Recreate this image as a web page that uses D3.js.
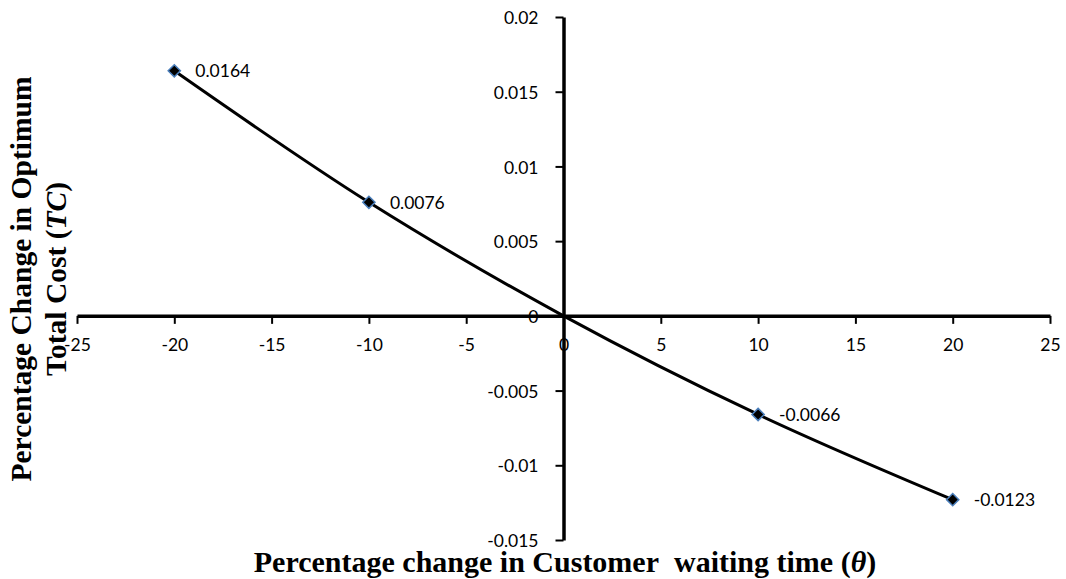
<!DOCTYPE html>
<html>
<head>
<meta charset="utf-8">
<script src="https://cdn.jsdelivr.net/npm/d3@7/dist/d3.min.js"></script>
<style>
  html, body { margin: 0; padding: 0; background: #fff; }
  svg { display: block; }
</style>
</head>
<body>
<svg id="chart" width="1066" height="579"></svg>
<script>
// ---- data ----
const xValues = [-20, -10, 0, 10, 20];
const yValues = [0.0164, 0.0076, 0, -0.0066, -0.0123];
const pointLabels = ["0.0164", "0.0076", "", "-0.0066", "-0.0123"];
const xTickValues = [-25, -20, -15, -10, -5, 0, 5, 10, 15, 20, 25];
const xTickLabels = ["-25", "-20", "-15", "-10", "-5", "0", "5", "10", "15", "20", "25"];
const yTickValues = [0.02, 0.015, 0.01, 0.005, 0, -0.005, -0.01, -0.015];
const yTickLabels = ["0.02", "0.015", "0.01", "0.005", "0", "-0.005", "-0.01", "-0.015"];
const xDomain = [-25, 25];
const yDomain = [-0.015, 0.02];

const svg = d3.select("#chart");
const tickFont = "Lato, 'Open Sans', sans-serif";
const titleFont = "'Liberation Serif', 'Times New Roman', serif";
const tickSize = 17.5;

const x = d3.scaleLinear().domain(xDomain).range([77, 1050]);
const y = d3.scaleLinear().domain(yDomain).range([540, 17]);

const data = xValues.map((v, i) => ({ x: v, y: yValues[i], label: pointLabels[i] }));

// ---- y axis (at x = 0) ----
const yAxis = d3.axisLeft(y)
  .tickValues(yTickValues)
  .tickFormat((d, i) => yTickLabels[i])
  .tickSize(8)
  .tickSizeOuter(0)
  .tickPadding(17);
const gy = svg.append("g").attr("transform", `translate(${x(0)},0)`).call(yAxis);
gy.select(".domain").attr("stroke", "#000").attr("stroke-width", 3.5);
gy.selectAll(".tick line").attr("stroke", "#000").attr("stroke-width", 2);
gy.selectAll(".tick text").attr("font-family", tickFont).attr("font-size", tickSize).attr("fill", "#000").attr("dy", "0.38em");

// ---- x axis (at y = 0) ----
const xAxis = d3.axisBottom(x)
  .tickValues(xTickValues)
  .tickFormat((d, i) => xTickLabels[i])
  .tickSize(8)
  .tickSizeOuter(0)
  .tickPadding(15);
const gx = svg.append("g").attr("transform", `translate(0,${y(0)})`).call(xAxis);
gx.select(".domain").attr("stroke", "#000").attr("stroke-width", 3.5);
gx.selectAll(".tick line").attr("stroke", "#000").attr("stroke-width", 2);
gx.selectAll(".tick text").attr("font-family", tickFont).attr("font-size", tickSize).attr("fill", "#000");

// ---- smoothed line ----
const line = d3.line()
  .x(d => x(d.x))
  .y(d => y(d.y))
  .curve(d3.curveCardinal.tension(0));
svg.append("path")
  .datum(data)
  .attr("d", line)
  .attr("fill", "none")
  .attr("stroke", "#000")
  .attr("stroke-width", 3);

// ---- markers ----
const marked = data.filter(d => d.label !== "");
const sym = d3.symbol().type(d3.symbolDiamond2).size(95);
svg.selectAll(".marker")
  .data(marked)
  .join("path")
  .attr("class", "marker")
  .attr("transform", d => `translate(${x(d.x)},${y(d.y)})`)
  .attr("d", sym)
  .attr("fill", "#000")
  .attr("stroke", "#4a7ebb")
  .attr("stroke-width", 1.5);

// ---- data labels ----
svg.selectAll(".dlabel")
  .data(marked)
  .join("text")
  .attr("class", "dlabel")
  .attr("x", d => x(d.x) + 21)
  .attr("y", d => y(d.y))
  .attr("dy", "0.38em")
  .attr("font-family", tickFont)
  .attr("font-size", tickSize)
  .attr("fill", "#000")
  .text(d => d.label);

// ---- axis titles ----
const xt = svg.append("text")
  .attr("x", 565)
  .attr("y", 572)
  .attr("text-anchor", "middle")
  .attr("font-family", titleFont)
  .attr("font-weight", "bold")
  .attr("font-size", 30)
  .attr("fill", "#000");
xt.append("tspan").text("Percentage change in Customer\u00A0 waiting time (");
xt.append("tspan").attr("font-style", "italic").text("θ");
xt.append("tspan").text(")");

const yt = svg.append("g").attr("transform", "translate(0,279) rotate(-90)");
yt.append("text")
  .attr("x", 0).attr("y", 31)
  .attr("text-anchor", "middle")
  .attr("font-family", titleFont)
  .attr("font-weight", "bold")
  .attr("font-size", 29.5)
  .attr("fill", "#000")
  .text("Percentage Change in Optimum");
const yt2 = yt.append("text")
  .attr("x", 0).attr("y", 66)
  .attr("text-anchor", "middle")
  .attr("font-family", titleFont)
  .attr("font-weight", "bold")
  .attr("font-size", 29.5)
  .attr("fill", "#000");
yt2.append("tspan").text("Total Cost (");
yt2.append("tspan").attr("font-style", "italic").text("TC");
yt2.append("tspan").text(")");
</script>
</body>
</html>
